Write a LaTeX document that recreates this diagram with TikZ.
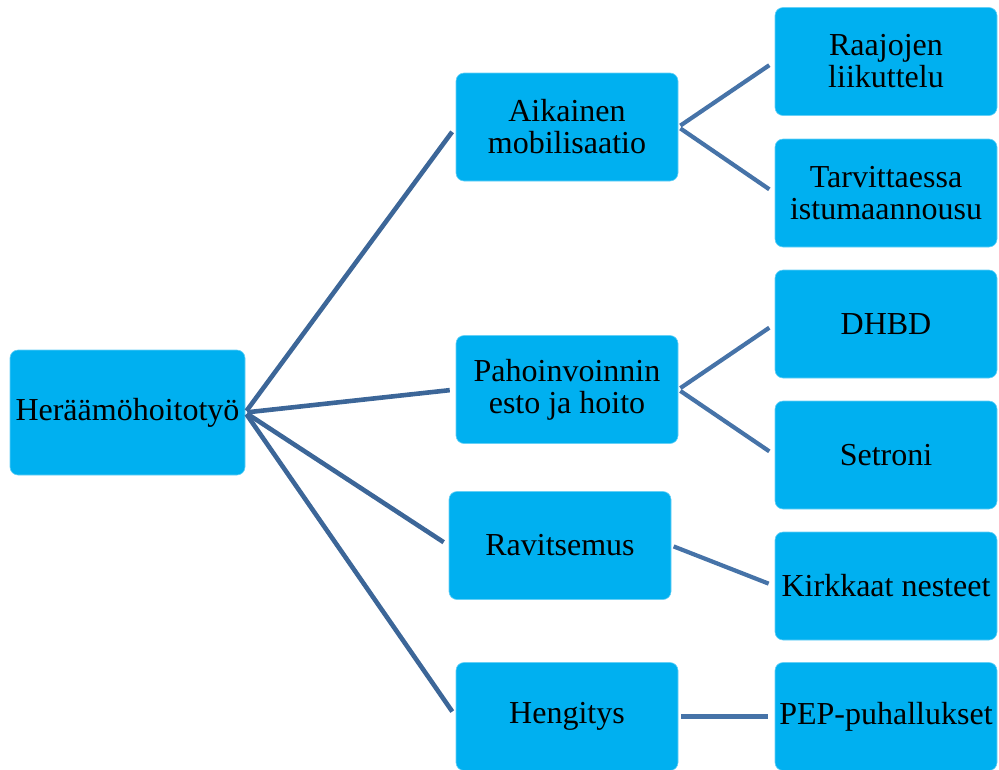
\documentclass[tikz,border=0pt]{standalone}
\usepackage{fontspec}
\setmainfont{Liberation Serif}
\newfontfamily\labelfont{Liberation Serif}
\begin{document}
\definecolor{boxblue}{HTML}{00B0F0}
\definecolor{linkdark}{HTML}{3C6698}
\definecolor{linklight}{HTML}{4673A8}
\begin{tikzpicture}[x=1pt,y=-1pt,
  box/.style={fill=boxblue, draw=boxblue!60!white, line width=0.6pt, rounded corners=8pt,
    minimum width=222pt, minimum height=108pt, align=center, inner sep=0pt,
    font=\labelfont\fontsize{32}{32}\selectfont, text=black},
  rootbox/.style={box, minimum width=235pt, minimum height=125pt},
  link/.style={line width=4.6pt, linkdark, shorten <=2pt, shorten >=6pt},
  sublink/.style={line width=4.2pt, linklight, shorten <=2.5pt, shorten >=6.5pt}]
\useasboundingbox (0,0) rectangle (999,769);

% root
\node[rootbox] (root) at (127.5,412.5) {Heräämöhoitotyö};

% second level
\node[box] (aik) at (567,127) {Aikainen\\mobilisaatio};
\node[box] (pah) at (567,389.5) {Pahoinvoinnin\\esto ja hoito};
\node[box] (rav) at (560,545.5) {Ravitsemus};
\node[box] (hen) at (567,716.5) {Hengitys};

% third level
\node[box] (raa) at (886,61.5) {Raajojen\\liikuttelu};
\node[box] (tar) at (886,193) {Tarvittaessa\\istumaannousu};
\node[box] (dhb) at (886,324) {DHBD};
\node[box] (set) at (886,455) {Setroni};
\node[box] (kir) at (886,586) {Kirkkaat nesteet};
\node[box] (pep) at (886,716.5) {PEP-puhallukset};

% connectors from the root
\draw[link] (root.east) -- (aik.west);
\draw[link] (root.east) -- (pah.west);
\draw[link] (root.east) -- (rav.west);
\draw[link] (root.east) -- (hen.west);

% connectors to the third level
\draw[sublink] (aik.east) -- (raa.west);
\draw[sublink] (aik.east) -- (tar.west);
\draw[sublink] (pah.east) -- (dhb.west);
\draw[sublink] (pah.east) -- (set.west);
\draw[sublink] (rav.east) -- (kir.west);
\draw[sublink] (hen.east) -- (pep.west);
\end{tikzpicture}
\end{document}
